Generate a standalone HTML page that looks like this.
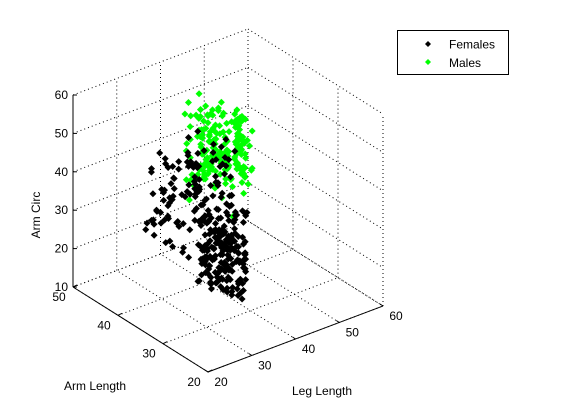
<!DOCTYPE html>
<html><head><meta charset="utf-8"><style>
html,body{margin:0;padding:0;background:#fff;}
svg{display:block;font-family:"Liberation Sans",Arial,sans-serif;font-size:12px;}
</style></head><body>
<svg id="chart" width="561" height="420" viewBox="0 0 561 420" xmlns="http://www.w3.org/2000/svg">
<rect x="0" y="0" width="561" height="420" fill="#fff"/>
<g id="grid"></g>
<g id="axes"></g>
<g id="points"></g>
<g id="labels"></g>
<text x="40" y="215" transform="rotate(-90 40 215)" text-anchor="middle">Arm Circ</text>
<text x="64" y="390">Arm Length</text>
<text x="292" y="395">Leg Length</text>
<g>
<rect x="397.5" y="30.5" width="111" height="44" fill="#fff" stroke="#000"/>
<path d="M428 41 L431 44 L428 47 L425 44 Z" fill="#000"/>
<text x="449" y="48.5">Females</text>
<path d="M428 59 L431 62 L428 65 L425 62 Z" fill="#00ff00"/>
<text x="449" y="67">Males</text>
</g>
</svg>
<script>
const armTicks=[20,30,40,50];
const legTicks=[20,30,40,50,60];
const circTicks=[10,20,30,40,50,60];
const femaleArm=[31.2,33.8,30.5,35.1,32.4,36.7,30.9,34.3,32.8,37.2,33.1,30.4,35.9,31.7,34.6,32.2,37.5,30.8,33.4,36.1,35.4,31.9,33.7,30.2,36.3,32.9,34.8,31.3,37.8,33.5,32.6,35.8,31.1,34.1,30.7,36.9,33.2,35.5,31.6,34.9,30.3,34.5,36.4,32.1,33.9,31.4,35.2,37.1,32.7,30.6,36.2,32.3,30.1,35.6,31.8,34.4,32.5,36.6,33.6,31.5,34.2,37.4,33.3,31.0,35.3,30.5,36.8,32.0,34.7,33.0,31.6,33.5,35.7,36.5,30.9,33.8,31.2,34.0,37.6,32.3,37.0,30.2,32.9,34.6,36.0,31.7,33.1,35.9,30.4,35.0,33.6,36.3,31.4,32.5,34.8,37.3,30.7,33.3,36.4,31.9,
32.2,34.9,37.7,30.6,33.0,35.4,32.7,31.1,34.2,36.8,35.8,31.3,33.9,36.2,32.1,30.3,35.1,37.0,31.8,34.5,30.8,35.6,32.4,33.7,37.9,34.1,31.5,36.1,33.2,30.0,36.6,33.4,30.9,31.9,35.5,32.8,37.2,30.6,34.3,33.1,34.0,32.0,36.7,35.3,30.4,31.6,33.5,34.8,32.6,37.4,31.0,37.1,34.6,33.0,36.9,35.7,30.2,32.2,35.2,31.4,35.5,30.7,31.8,37.3,33.6,36.4,34.4,30.9,31.2,33.8,33.3,36.0,35.0,30.1,31.5,32.6,36.5,34.7,37.7,30.5,37.5,34.2,32.3,36.3,34.9,30.8,31.9,33.7,35.6,32.1,32.9,31.2,34.1,34.5,37.0,33.2,35.8,31.7,30.3,36.2,
39.2,42.5,44.8,40.1,43.3,38.6,45.7,41.4,39.9,43.9,41.8,38.3,44.1,42.9,40.6,45.2,39.5,43.0,41.1,46.0,40.4,43.6,39.0,45.4,41.7,38.9,42.2,44.5,40.8,42.7,44.3,40.9,42.4,38.1,45.9,41.3,43.8,39.7,44.9,41.0,38.8,45.0,41.6,43.4,39.3,42.0,40.2,45.5,38.4,43.1,42.6,39.6,45.1,40.7,44.0,38.2,41.9,43.7,42.8,40.0,
34.5,37.9,33.1,39.4,35.8,38.2,32.6,36.7,39.9,34.1,36.3,33.8,38.7,35.2,37.4,32.9,39.1,34.8,36.9,33.4,38.5,35.6,32.3,37.1,34.0,39.6,35.9,33.6,38.0,36.5,33.0,39.3,36.1,34.4,38.8,35.4,32.5,37.7,34.9,38.3];
const femaleLeg=[37.1,36.4,38.2,35.6,37.9,36.0,39.1,35.3,38.5,36.8,36.2,38.8,35.1,37.5,36.7,39.3,35.9,38.0,36.5,37.3,38.4,35.7,37.0,39.0,36.1,38.6,35.4,37.7,36.3,38.9,35.5,37.6,38.3,36.9,39.4,35.8,37.2,36.6,38.1,35.2,39.2,36.3,35.9,38.7,37.4,36.1,38.5,35.6,37.8,39.0,36.6,38.1,37.3,35.4,39.1,36.8,37.5,38.4,35.7,36.2,37.8,35.0,38.9,36.4,37.1,39.4,35.8,38.2,36.0,37.6,38.6,37.0,36.2,39.2,35.5,37.9,38.8,36.5,35.3,38.0,35.9,39.1,37.4,35.8,38.3,36.7,39.0,35.2,37.7,36.9,37.3,36.0,38.7,37.1,35.6,38.4,36.3,39.3,35.1,38.2,
36.8,38.5,35.2,39.4,37.6,36.1,37.9,38.6,36.4,35.8,38.0,35.4,37.2,36.3,38.9,39.1,35.7,36.9,38.3,37.4,39.0,36.6,38.1,37.8,35.3,36.2,38.7,35.9,37.0,39.2,35.6,37.7,39.3,38.5,36.0,37.3,35.5,38.8,36.7,38.1,37.5,38.9,35.8,36.4,39.2,38.0,36.9,35.1,37.2,36.5,36.1,35.3,38.6,37.9,36.8,35.6,39.1,37.4,38.4,37.0,38.3,39.4,36.5,35.7,37.1,36.0,38.2,39.0,35.4,37.8,37.0,36.2,35.9,38.8,39.3,37.5,36.6,35.5,38.1,39.1,36.4,37.2,38.0,36.1,35.8,39.2,37.6,38.5,36.3,35.3,39.3,38.1,36.7,37.3,36.5,35.2,37.9,36.8,38.7,37.7,
34.1,33.2,35.6,32.8,36.0,34.7,33.5,35.1,32.4,36.4,33.7,35.9,32.2,34.4,36.6,33.0,35.3,34.0,32.9,35.7,35.0,32.6,36.2,33.8,34.6,36.8,32.1,35.5,33.3,34.9,32.5,34.8,33.9,36.1,32.7,35.2,34.3,33.1,36.5,35.8,36.3,33.4,34.5,32.3,35.4,33.6,36.7,32.0,34.2,35.0,33.1,36.0,32.9,35.7,34.1,33.5,35.9,34.6,32.6,36.2,
37.2,36.1,38.4,35.5,39.0,36.8,37.7,38.9,35.9,37.5,38.6,35.3,36.9,39.4,37.0,38.2,35.7,36.4,39.2,37.9,36.0,39.1,37.8,35.6,38.5,36.3,39.6,37.3,35.4,38.0,39.5,37.4,35.8,38.7,36.6,37.1,38.3,35.2,37.6,36.7];
const femaleCirc=[22.4,27.1,18.6,31.5,24.9,20.3,35.7,16.2,26.8,29.4,19.7,33.2,23.5,14.8,28.6,21.9,37.3,25.4,17.1,30.8,26.3,15.9,32.7,21.2,24.0,38.5,19.3,28.1,13.6,23.7,31.1,22.8,17.5,27.6,35.2,20.1,25.9,14.3,29.8,24.6,18.2,29.1,23.0,33.8,16.7,26.5,21.4,38.9,19.8,27.3,24.3,13.2,30.4,20.6,25.7,34.6,17.9,22.1,31.9,15.4,28.9,36.4,21.6,18.9,27.9,23.3,16.1,32.3,24.8,20.8,15.1,25.1,33.5,26.2,19.1,30.1,22.6,17.3,36.8,28.3,34.1,20.4,27.4,14.1,23.9,29.6,18.4,35.3,25.6,21.1,23.1,31.7,16.5,26.0,20.0,37.9,28.7,13.9,24.2,32.9,
20.9,17.8,29.9,24.4,34.4,19.5,26.6,22.3,15.7,30.6,27.7,23.6,14.6,36.1,21.7,25.2,31.3,18.1,33.1,19.0,16.9,28.4,25.5,20.2,32.1,22.9,13.4,27.0,24.5,35.9,30.3,18.7,21.8,34.9,17.2,26.9,23.8,29.2,15.5,22.0,25.8,33.9,19.9,16.3,28.0,31.0,21.3,24.1,37.1,18.3,21.5,14.4,27.2,23.2,30.9,17.6,35.0,20.5,26.1,29.0,33.0,24.7,16.0,29.7,19.4,22.7,27.8,12.8,31.6,25.3,17.0,30.0,22.2,25.0,13.8,34.0,20.7,28.5,18.8,23.4,28.2,19.2,36.6,21.0,26.4,15.0,29.3,24.0,32.5,27.5,23.8,26.7,18.0,31.8,22.5,28.8,16.6,33.6,21.5,19.6,
28.4,35.1,24.6,40.2,31.7,19.8,37.3,26.9,43.5,30.2,22.1,38.6,33.4,27.5,44.8,25.3,36.0,20.7,32.9,41.1,34.7,29.0,42.3,23.8,38.1,31.4,27.2,39.5,21.6,35.9,26.3,43.0,30.8,36.7,24.2,40.6,33.0,28.7,37.8,18.9,39.9,21.4,35.6,29.6,42.7,27.9,34.2,23.1,45.0,31.9,32.4,25.7,38.9,20.3,33.8,36.4,24.9,41.8,29.3,37.0,
41.2,46.8,38.3,50.1,43.7,36.9,48.4,40.5,44.9,37.6,45.3,39.1,51.6,42.0,47.5,35.8,43.9,49.2,38.7,46.1,37.2,48.9,44.1,40.8,52.3,42.6,36.4,46.7,39.7,45.0,49.5,41.5,36.0,47.2,43.3,50.6,38.9,44.4,40.0,42.9];
const maleArm=[36.2,38.9,34.5,41.3,37.6,35.1,39.8,42.7,36.9,33.8,40.4,35.7,38.1,43.5,36.4,39.2,34.2,41.9,37.3,38.6,34.9,42.2,37.0,35.9,40.7,38.4,36.6,43.9,39.5,35.3,41.6,36.1,39.9,34.0,38.7,42.9,35.6,37.8,40.2,36.8,38.3,43.1,35.0,40.9,37.2,34.6,41.0,39.1,36.0,42.4,35.4,37.7,42.0,36.5,39.6,41.4,33.9,38.0,43.3,37.1,39.7,34.3,40.6,38.5,35.8,37.4,42.6,36.3,34.8,41.1,37.9,41.8,36.7,33.6,40.0,35.2,38.8,39.4,36.1,43.7,42.1,38.2,34.7,39.0,43.0,36.4,37.5,40.5,35.5,38.6,36.0,40.8,41.7,37.3,34.1,39.3,35.9,42.5,38.9,34.4,
40.1,35.0,38.4,42.8,36.6,41.2,37.7,34.9,39.7,36.2,34.2,39.5,36.8,35.7,41.5,38.1,43.4,37.0,35.3,40.3,38.7,42.3,37.2,40.6,35.1,36.9,39.0,41.3,34.5,37.6,41.9,36.3,35.4,38.3,42.2,34.0,40.4,36.7,39.8,43.0,37.4,39.9,43.6,34.6,37.9,40.7,36.5,38.5,41.6,35.8,35.6,38.0,39.3,41.1,34.8,42.6,35.2,40.0,37.1,39.1,43.2,37.5,36.0,39.6,40.9,35.5,38.3,34.3,42.0,36.4,39.4,34.7,41.4,36.9,38.6,37.3,43.8,39.7,35.9,40.5,36.5,42.4,38.9,35.0,37.0,41.8,34.1,36.1,40.8,38.2,40.6,35.9,37.8,42.1,39.2,36.2,40.1,38.8,43.1,34.9];
const maleLeg=[41.2,40.3,42.8,39.6,43.5,41.9,40.7,38.4,42.2,44.1,39.9,42.6,41.1,40.2,43.8,39.1,42.0,40.8,44.4,41.5,43.0,39.4,41.7,44.0,40.5,42.4,38.8,41.3,43.6,40.0,40.9,43.3,39.7,42.9,41.6,38.6,44.2,40.1,42.5,43.9,42.1,38.9,43.4,41.0,39.3,44.5,40.6,42.7,41.8,39.0,44.3,41.4,40.0,43.1,38.5,42.0,41.2,44.6,39.5,42.8,39.8,43.7,42.3,40.4,44.8,41.1,39.2,43.2,40.9,41.7,42.9,40.6,44.0,41.8,39.6,43.4,42.1,38.7,44.7,40.3,41.0,42.5,39.9,43.8,40.8,41.6,44.1,39.4,42.6,43.0,43.6,39.3,41.5,42.2,44.6,40.1,43.1,41.9,38.9,42.4,
40.7,44.3,42.7,39.5,41.3,43.6,40.2,42.9,41.0,44.0,42.3,41.1,43.9,44.5,39.7,40.9,42.1,43.5,40.4,41.4,39.1,42.8,40.5,41.7,43.3,44.2,39.8,40.7,42.4,43.7,44.0,40.8,42.6,39.9,41.5,43.0,42.7,44.4,40.1,39.4,41.8,43.2,39.0,42.0,44.7,40.4,41.3,39.6,43.4,42.5,43.1,39.5,44.2,40.7,42.3,41.2,43.8,42.2,39.3,40.6,40.2,41.9,43.3,44.1,39.8,42.7,40.0,43.9,41.6,44.5,42.6,43.6,40.3,41.4,43.0,39.2,42.9,40.5,44.3,41.1,39.7,41.0,42.4,43.7,40.6,41.8,44.6,43.1,39.9,42.3,41.5,44.8,39.4,40.0,42.8,43.5,41.7,39.1,42.0,43.3];
const maleCirc=[45.2,40.7,49.8,37.3,52.1,43.6,47.9,35.4,50.6,42.0,38.8,54.3,44.1,33.9,48.5,41.3,51.7,46.2,39.6,55.8,47.1,36.5,43.0,53.2,40.1,49.3,45.7,31.8,52.9,44.8,41.9,50.2,38.0,46.6,55.0,42.7,34.6,48.9,43.4,51.3,53.7,44.3,40.4,49.0,36.9,47.6,42.5,56.4,39.2,45.9,48.1,33.1,51.9,43.9,46.9,38.4,50.8,41.6,54.6,37.7,42.3,49.6,45.0,35.9,53.5,44.6,40.9,47.3,30.6,50.0,39.9,46.4,52.6,42.9,37.1,55.3,44.0,49.4,41.0,47.7,51.2,38.6,44.4,50.5,34.2,46.0,53.9,40.3,48.2,43.1,45.6,52.4,36.3,47.8,42.1,39.5,49.7,44.9,57.2,41.4,
37.9,48.7,43.7,51.5,45.3,33.4,50.4,46.8,40.6,54.0,49.1,41.8,55.6,39.0,47.0,44.2,36.0,52.2,43.3,48.4,43.8,50.7,40.0,45.4,38.2,53.0,47.5,42.8,51.1,35.1,46.3,39.3,48.0,54.8,41.1,45.5,37.5,50.3,44.5,29.5,40.5,47.4,51.6,43.5,49.9,36.7,46.5,55.1,42.4,48.6,52.7,44.7,38.9,50.9,42.6,47.2,40.2,45.1,53.4,39.8,35.6,48.8,46.1,41.7,54.4,43.2,51.4,38.1,47.6,44.0,50.1,42.2,53.8,37.4,45.8,49.5,41.2,46.7,39.4,52.5,44.6,56.9,40.8,48.3,43.0,34.8,51.8,45.0,49.2,41.5,47.3,38.3,45.5,52.0,40.4,46.4,54.1,42.6,37.0,50.2];

const NS="http://www.w3.org/2000/svg";
function px(a,l,c){return 208-4.5*(a-20)+4.375*(l-20);}
function py(a,l,c){return 372-2.8333*(a-20)-1.65*(l-20)-3.84*(c-10);}
function P(a,l,c){return [px(a,l,c),py(a,l,c)];}
function line(g,p1,p2,dotted,name){
  const e=document.createElementNS(NS,'line');
  e.setAttribute('x1',p1[0]);e.setAttribute('y1',p1[1]);
  e.setAttribute('x2',p2[0]);e.setAttribute('y2',p2[1]);
  e.setAttribute('stroke','#000');e.setAttribute('stroke-width','1');
  if(dotted)e.setAttribute('stroke-dasharray','1,3');
  
  
  g.appendChild(e);
}
const grid=document.getElementById('grid');
const axes=document.getElementById('axes');
circTicks.forEach(c=>line(grid,P(50,20,c),P(50,60,c),true,'grid-line-circ'));
legTicks.forEach(l=>line(grid,P(50,l,10),P(50,l,60),true,'grid-line-leg'));
circTicks.forEach(c=>line(grid,P(50,60,c),P(20,60,c),true,'grid-line-circ'));
armTicks.forEach(a=>line(grid,P(a,60,10),P(a,60,60),true,'grid-line-arm'));
armTicks.forEach(a=>line(grid,P(a,20,10),P(a,60,10),true,'grid-line-arm'));
legTicks.forEach(l=>line(grid,P(20,l,10),P(50,l,10),true,'grid-line-leg'));
line(axes,P(50,20,10),P(50,20,60),false,'z-axis-line');
line(axes,P(50,20,10),P(20,20,10),false,'arm-axis-line');
line(axes,P(20,20,10),P(20,60,10),false,'leg-axis-line');
circTicks.forEach(c=>line(axes,P(50,20,c),[px(50,20,c)+4,py(50,20,c)],false,'z-tick'));
armTicks.forEach(a=>line(axes,P(a,20,10),[px(a,20,10)+4,py(a,20,10)-2],false,'arm-tick'));
legTicks.forEach(l=>line(axes,P(20,l,10),[px(20,l,10)-3,py(20,l,10)-2],false,'leg-tick'));
const pts=document.getElementById('points');
const R=3.5;
function diamond(x,y,color,name){
  const e=document.createElementNS(NS,'path');
  e.setAttribute('d',`M${x} ${y-R}L${x+R} ${y}L${x} ${y+R}L${x-R} ${y}Z`);
  e.setAttribute('fill',color);
  
  
  pts.appendChild(e);
}
for(let i=0;i<maleArm.length;i++){diamond(px(maleArm[i],maleLeg[i],maleCirc[i]),py(maleArm[i],maleLeg[i],maleCirc[i]),'#00ff00','male-point');}
for(let i=0;i<femaleArm.length;i++){diamond(px(femaleArm[i],femaleLeg[i],femaleCirc[i]),py(femaleArm[i],femaleLeg[i],femaleCirc[i]),'#000','female-point');}
const lab=document.getElementById('labels');
function txt(x,y,s,anchor,name){
  const e=document.createElementNS(NS,'text');
  e.setAttribute('x',x);e.setAttribute('y',y);e.setAttribute('text-anchor',anchor);
  e.textContent=s;
  
  
  lab.appendChild(e);
}
circTicks.forEach(c=>txt(px(50,20,c)-5,py(50,20,c)+4,String(c),'end','z-tick-label'));
armTicks.forEach(a=>txt(px(a,20,10)-14,py(a,20,10)+14,String(a),'middle','arm-tick-label'));
legTicks.forEach(l=>txt(px(20,l,10)+13,py(20,l,10)+14,String(l),'middle','leg-tick-label'));
</script>
</body></html>
